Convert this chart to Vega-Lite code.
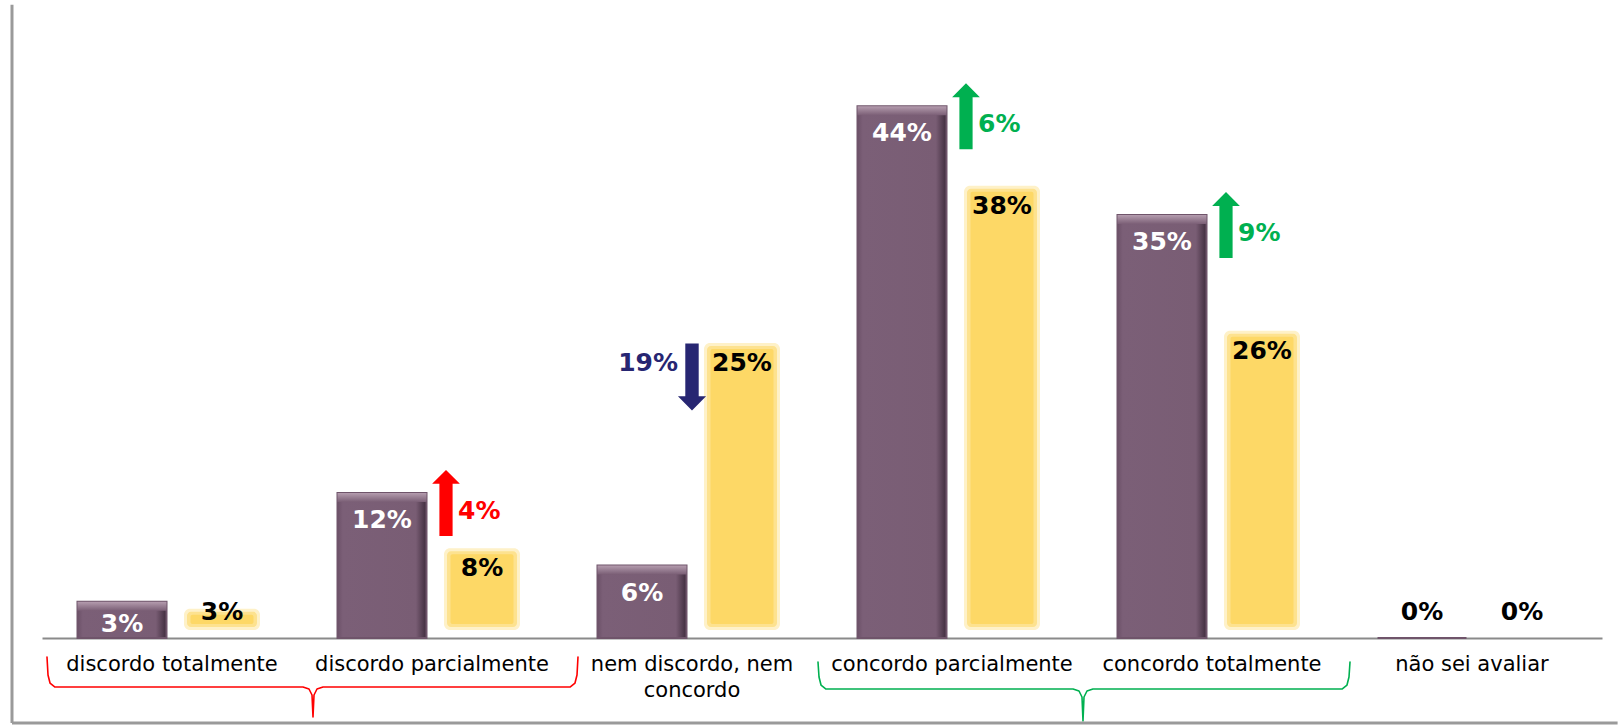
{
  "$schema": "https://vega.github.io/schema/vega-lite/v6.json",
  "width": 1560,
  "height": 638,
  "autosize": {"type": "none"},
  "padding": {"left": 42, "top": 0, "right": 16, "bottom": 87},
  "background": "white",
  "config": {"view": {"stroke": null}, "text": {"font": "DejaVu Sans"}},
  "datasets": {
    "respostas": [
      {"categoria": "discordo totalmente", "atual": 0.03, "anterior": 0.03},
      {"categoria": "discordo parcialmente", "atual": 0.12, "anterior": 0.08, "variacao": 0.04, "sentido": "sobe"},
      {"categoria": "nem discordo, nem concordo", "atual": 0.06, "anterior": 0.25, "variacao": 0.19, "sentido": "desce"},
      {"categoria": "concordo parcialmente", "atual": 0.44, "anterior": 0.38, "variacao": 0.06, "sentido": "sobe"},
      {"categoria": "concordo totalmente", "atual": 0.35, "anterior": 0.26, "variacao": 0.09, "sentido": "sobe"},
      {"categoria": "não sei avaliar", "atual": 0, "anterior": 0}
    ],
    "chaves": [
      {"chave": "discordo", "ordem": 1, "x": 0.0192, "y": -0.01573},
      {"chave": "discordo", "ordem": 2, "x": 0.0231, "y": -0.03063},
      {"chave": "discordo", "ordem": 3, "x": 0.0308, "y": -0.03725},
      {"chave": "discordo", "ordem": 4, "x": 0.05, "y": -0.04056},
      {"chave": "discordo", "ordem": 5, "x": 1.0038, "y": -0.04056},
      {"chave": "discordo", "ordem": 6, "x": 1.0269, "y": -0.04221},
      {"chave": "discordo", "ordem": 7, "x": 1.0385, "y": -0.04718},
      {"chave": "discordo", "ordem": 8, "x": 1.0423, "y": -0.06539},
      {"chave": "discordo", "ordem": 9, "x": 1.0462, "y": -0.04718},
      {"chave": "discordo", "ordem": 10, "x": 1.0577, "y": -0.04221},
      {"chave": "discordo", "ordem": 11, "x": 1.0808, "y": -0.04056},
      {"chave": "discordo", "ordem": 12, "x": 2.0308, "y": -0.04056},
      {"chave": "discordo", "ordem": 13, "x": 2.05, "y": -0.03725},
      {"chave": "discordo", "ordem": 14, "x": 2.0577, "y": -0.03063},
      {"chave": "discordo", "ordem": 15, "x": 2.0615, "y": -0.01573},
      {"chave": "concordo", "ordem": 1, "x": 2.9846, "y": -0.01987},
      {"chave": "concordo", "ordem": 2, "x": 2.9885, "y": -0.03228},
      {"chave": "concordo", "ordem": 3, "x": 2.9962, "y": -0.0389},
      {"chave": "concordo", "ordem": 4, "x": 3.0154, "y": -0.04221},
      {"chave": "concordo", "ordem": 5, "x": 3.9654, "y": -0.04221},
      {"chave": "concordo", "ordem": 6, "x": 3.9885, "y": -0.04387},
      {"chave": "concordo", "ordem": 7, "x": 4.0, "y": -0.04883},
      {"chave": "concordo", "ordem": 8, "x": 4.0038, "y": -0.0687},
      {"chave": "concordo", "ordem": 9, "x": 4.0077, "y": -0.04883},
      {"chave": "concordo", "ordem": 10, "x": 4.0192, "y": -0.04387},
      {"chave": "concordo", "ordem": 11, "x": 4.0423, "y": -0.04221},
      {"chave": "concordo", "ordem": 12, "x": 5.0, "y": -0.04221},
      {"chave": "concordo", "ordem": 13, "x": 5.0192, "y": -0.0389},
      {"chave": "concordo", "ordem": 14, "x": 5.0269, "y": -0.03228},
      {"chave": "concordo", "ordem": 15, "x": 5.0308, "y": -0.01987}
    ],
    "moldura": [
      {"lado": "esquerda", "x": -0.1154, "x2": -0.1154, "y": 0.524, "y2": -0.0704},
      {"lado": "base", "x": -0.1154, "x2": 6.06, "y": -0.0704, "y2": -0.0704}
    ]
  },
  "resolve": {"scale": {"x": "independent"}, "axis": {"x": "independent"}},
  "layer": [
    {
      "data": {"name": "respostas"},
      "encoding": {
        "x": {
          "field": "categoria",
          "type": "nominal",
          "sort": null,
          "scale": {
            "domain": ["discordo totalmente", "discordo parcialmente", "nem discordo, nem concordo", "concordo parcialmente", "concordo totalmente", "não sei avaliar"],
            "paddingInner": 0,
            "paddingOuter": 0
          },
          "axis": {
            "title": null,
            "ticks": false,
            "tickSize": 0,
            "domainColor": "#8a8a8a",
            "domainWidth": 2,
            "labelFont": "DejaVu Sans",
            "labelFontSize": 21,
            "labelColor": "#000000",
            "labelPadding": 15,
            "labelAngle": 0,
            "labelLimit": 400,
            "labelOverlap": false,
            "labelLineHeight": 26,
            "labelBaseline": "top",
            "labelExpr": "datum.value == 'nem discordo, nem concordo' ? ['nem discordo, nem', 'concordo'] : datum.label"
          }
        }
      },
      "layer": [
        {
          "transform": [
            {"fold": ["atual", "anterior"], "as": ["serie", "valor"]},
            {"filter": "datum.serie == 'anterior' && datum.valor > 0"}
          ],
          "mark": {
            "type": "bar",
            "width": 76,
            "yOffset": 7,
            "y2Offset": -8,
            "fill": "#fef1c8",
            "cornerRadius": 6
          },
          "encoding": {
            "xOffset": {"field": "serie", "type": "nominal", "scale": {"domain": ["atual", "anterior"], "paddingInner": 0.11, "paddingOuter": 0.355}},
            "y": {"field": "valor", "type": "quantitative", "stack": null, "scale": {"domain": [0, 0.528], "nice": false}, "axis": null},
            "y2": {"datum": 0}
          }
        },
        {
          "transform": [
            {"fold": ["atual", "anterior"], "as": ["serie", "valor"]},
            {"filter": "datum.serie == 'anterior' && datum.valor > 0"}
          ],
          "mark": {
            "type": "bar",
            "width": 70,
            "yOffset": 10,
            "y2Offset": -11,
            "fill": "#fde28f",
            "cornerRadius": 4
          },
          "encoding": {
            "xOffset": {"field": "serie", "type": "nominal", "scale": {"domain": ["atual", "anterior"], "paddingInner": 0.11, "paddingOuter": 0.355}},
            "y": {"field": "valor", "type": "quantitative", "stack": null, "scale": {"domain": [0, 0.528], "nice": false}, "axis": null},
            "y2": {"datum": 0}
          }
        },
        {
          "transform": [
            {"fold": ["atual", "anterior"], "as": ["serie", "valor"]},
            {"filter": "datum.serie == 'anterior' && datum.valor > 0"}
          ],
          "mark": {
            "type": "bar",
            "width": 63,
            "yOffset": 13,
            "y2Offset": -14,
            "fill": "#fdd866",
            "cornerRadius": 2
          },
          "encoding": {
            "xOffset": {"field": "serie", "type": "nominal", "scale": {"domain": ["atual", "anterior"], "paddingInner": 0.11, "paddingOuter": 0.355}},
            "y": {"field": "valor", "type": "quantitative", "stack": null, "scale": {"domain": [0, 0.528], "nice": false}, "axis": null},
            "y2": {"datum": 0}
          }
        },
        {
          "transform": [
            {"fold": ["atual", "anterior"], "as": ["serie", "valor"]},
            {"filter": "datum.serie == 'atual'"}
          ],
          "mark": {
            "type": "bar",
            "stroke": "#6f546a",
            "strokeWidth": 2,
            "fill": {
              "gradient": "linear", "x1": 0, "y1": 0, "x2": 1, "y2": 0,
              "stops": [
                {"offset": 0, "color": "#6c5168"},
                {"offset": 0.06, "color": "#7b5f77"},
                {"offset": 0.88, "color": "#795d74"},
                {"offset": 1, "color": "#3f2c3d"}
              ]
            }
          },
          "encoding": {
            "xOffset": {"field": "serie", "type": "nominal", "scale": {"domain": ["atual", "anterior"], "paddingInner": 0.11, "paddingOuter": 0.355}},
            "y": {"field": "valor", "type": "quantitative", "stack": null, "scale": {"domain": [0, 0.528], "nice": false}, "axis": null}
          }
        },
        {
          "transform": [
            {"fold": ["atual", "anterior"], "as": ["serie", "valor"]},
            {"filter": "datum.serie == 'atual' && datum.valor > 0"}
          ],
          "mark": {
            "type": "bar",
            "y2Offset": 9,
            "fill": {
              "gradient": "linear", "x1": 0, "y1": 0, "x2": 0, "y2": 1,
              "stops": [
                {"offset": 0, "color": "#b49cae"},
                {"offset": 1, "color": "#7a5e75"}
              ]
            }
          },
          "encoding": {
            "xOffset": {"field": "serie", "type": "nominal", "scale": {"domain": ["atual", "anterior"], "paddingInner": 0.11, "paddingOuter": 0.355}},
            "y": {"field": "valor", "type": "quantitative", "stack": null, "scale": {"domain": [0, 0.528], "nice": false}, "axis": null},
            "y2": {"field": "valor"}
          }
        },
        {
          "transform": [
            {"fold": ["atual", "anterior"], "as": ["serie", "valor"]},
            {"filter": "datum.serie == 'atual' && datum.valor >= 0.05"}
          ],
          "mark": {"type": "text", "baseline": "middle", "dy": 27, "fontSize": 25, "fontWeight": "bold", "font": "DejaVu Sans", "fill": "#ffffff"},
          "encoding": {
            "xOffset": {"field": "serie", "type": "nominal", "scale": {"domain": ["atual", "anterior"], "paddingInner": 0.11, "paddingOuter": 0.355}},
            "y": {"field": "valor", "type": "quantitative", "stack": null, "scale": {"domain": [0, 0.528], "nice": false}, "axis": null},
            "text": {"field": "valor", "type": "quantitative", "format": ".0%"}
          }
        },
        {
          "transform": [
            {"fold": ["atual", "anterior"], "as": ["serie", "valor"]},
            {"filter": "datum.serie == 'atual' && datum.valor > 0 && datum.valor < 0.05"}
          ],
          "mark": {"type": "text", "baseline": "middle", "dy": 22, "fontSize": 25, "fontWeight": "bold", "font": "DejaVu Sans", "fill": "#ffffff"},
          "encoding": {
            "xOffset": {"field": "serie", "type": "nominal", "scale": {"domain": ["atual", "anterior"], "paddingInner": 0.11, "paddingOuter": 0.355}},
            "y": {"field": "valor", "type": "quantitative", "stack": null, "scale": {"domain": [0, 0.528], "nice": false}, "axis": null},
            "text": {"field": "valor", "type": "quantitative", "format": ".0%"}
          }
        },
        {
          "transform": [
            {"fold": ["atual", "anterior"], "as": ["serie", "valor"]},
            {"filter": "datum.serie == 'anterior' && datum.valor >= 0.05"}
          ],
          "mark": {"type": "text", "baseline": "middle", "dy": 27, "fontSize": 25, "fontWeight": "bold", "font": "DejaVu Sans", "fill": "#000000"},
          "encoding": {
            "xOffset": {"field": "serie", "type": "nominal", "scale": {"domain": ["atual", "anterior"], "paddingInner": 0.11, "paddingOuter": 0.355}},
            "y": {"field": "valor", "type": "quantitative", "stack": null, "scale": {"domain": [0, 0.528], "nice": false}, "axis": null},
            "text": {"field": "valor", "type": "quantitative", "format": ".0%"}
          }
        },
        {
          "transform": [
            {"fold": ["atual", "anterior"], "as": ["serie", "valor"]},
            {"filter": "datum.serie == 'anterior' && datum.valor > 0 && datum.valor < 0.05"}
          ],
          "mark": {"type": "text", "baseline": "middle", "dy": 10, "fontSize": 25, "fontWeight": "bold", "font": "DejaVu Sans", "fill": "#000000"},
          "encoding": {
            "xOffset": {"field": "serie", "type": "nominal", "scale": {"domain": ["atual", "anterior"], "paddingInner": 0.11, "paddingOuter": 0.355}},
            "y": {"field": "valor", "type": "quantitative", "stack": null, "scale": {"domain": [0, 0.528], "nice": false}, "axis": null},
            "text": {"field": "valor", "type": "quantitative", "format": ".0%"}
          }
        },
        {
          "transform": [
            {"fold": ["atual", "anterior"], "as": ["serie", "valor"]},
            {"filter": "datum.valor == 0"}
          ],
          "mark": {"type": "text", "baseline": "middle", "dy": -26, "fontSize": 25, "fontWeight": "bold", "font": "DejaVu Sans", "fill": "#000000"},
          "encoding": {
            "xOffset": {"field": "serie", "type": "nominal", "scale": {"domain": ["atual", "anterior"], "paddingInner": 0.11, "paddingOuter": 0.355}},
            "y": {"field": "valor", "type": "quantitative", "stack": null, "scale": {"domain": [0, 0.528], "nice": false}, "axis": null},
            "text": {"field": "valor", "type": "quantitative", "format": ".0%"}
          }
        },
        {
          "transform": [{"filter": "datum.sentido == 'sobe'"}],
          "mark": {
            "type": "point",
            "shape": "M0,-1L0.42,-0.58L0.2,-0.58L0.2,1L-0.2,1L-0.2,-0.58L-0.42,-0.58Z",
            "filled": true,
            "size": 4356,
            "opacity": 1,
            "strokeWidth": 0,
            "xOffset": 14,
            "yOffset": 10
          },
          "encoding": {
            "y": {"field": "atual", "type": "quantitative", "scale": {"domain": [0, 0.528], "nice": false}, "axis": null},
            "color": {"condition": {"test": "datum.categoria == 'discordo parcialmente'", "value": "#ff0000"}, "value": "#00b050"}
          }
        },
        {
          "transform": [{"filter": "datum.sentido == 'sobe'"}],
          "mark": {"type": "text", "align": "left", "baseline": "middle", "dx": 26, "dy": 18, "fontSize": 25, "fontWeight": "bold", "font": "DejaVu Sans"},
          "encoding": {
            "y": {"field": "atual", "type": "quantitative", "scale": {"domain": [0, 0.528], "nice": false}, "axis": null},
            "text": {"field": "variacao", "type": "quantitative", "format": ".0%"},
            "color": {"condition": {"test": "datum.categoria == 'discordo parcialmente'", "value": "#ff0000"}, "value": "#00b050"}
          }
        },
        {
          "transform": [{"filter": "datum.sentido == 'desce'"}],
          "mark": {
            "type": "point",
            "shape": "M0,1L0.42,0.58L0.2,0.58L0.2,-1L-0.2,-1L-0.2,0.58L-0.42,0.58Z",
            "filled": true,
            "size": 4489,
            "opacity": 1,
            "strokeWidth": 0,
            "color": "#272672",
            "yOffset": 41
          },
          "encoding": {
            "y": {"field": "anterior", "type": "quantitative", "scale": {"domain": [0, 0.528], "nice": false}, "axis": null}
          }
        },
        {
          "transform": [{"filter": "datum.sentido == 'desce'"}],
          "mark": {"type": "text", "align": "right", "baseline": "middle", "dx": -14, "dy": 27, "fontSize": 25, "fontWeight": "bold", "font": "DejaVu Sans", "fill": "#272672"},
          "encoding": {
            "y": {"field": "anterior", "type": "quantitative", "scale": {"domain": [0, 0.528], "nice": false}, "axis": null},
            "text": {"field": "variacao", "type": "quantitative", "format": ".0%"}
          }
        }
      ]
    },
    {
      "layer": [
        {
          "data": {"name": "chaves"},
          "mark": {"type": "line", "strokeWidth": 1.6, "interpolate": "linear", "strokeJoin": "round", "strokeCap": "round"},
          "encoding": {
            "x": {"field": "x", "type": "quantitative", "scale": {"domain": [0, 6], "nice": false, "zero": false}, "axis": null},
            "y": {"field": "y", "type": "quantitative", "scale": {"domain": [0, 0.528], "nice": false}, "axis": null},
            "order": {"field": "ordem", "type": "quantitative"},
            "color": {"field": "chave", "type": "nominal", "scale": {"domain": ["discordo", "concordo"], "range": ["#ff0000", "#00b050"]}, "legend": null}
          }
        },
        {
          "data": {"name": "moldura"},
          "mark": {"type": "rule", "strokeWidth": 3, "color": "#9a9a9a"},
          "encoding": {
            "x": {"field": "x", "type": "quantitative", "scale": {"domain": [0, 6], "nice": false, "zero": false}, "axis": null},
            "x2": {"field": "x2"},
            "y": {"field": "y", "type": "quantitative", "scale": {"domain": [0, 0.528], "nice": false}, "axis": null},
            "y2": {"field": "y2"}
          }
        }
      ]
    }
  ]
}
